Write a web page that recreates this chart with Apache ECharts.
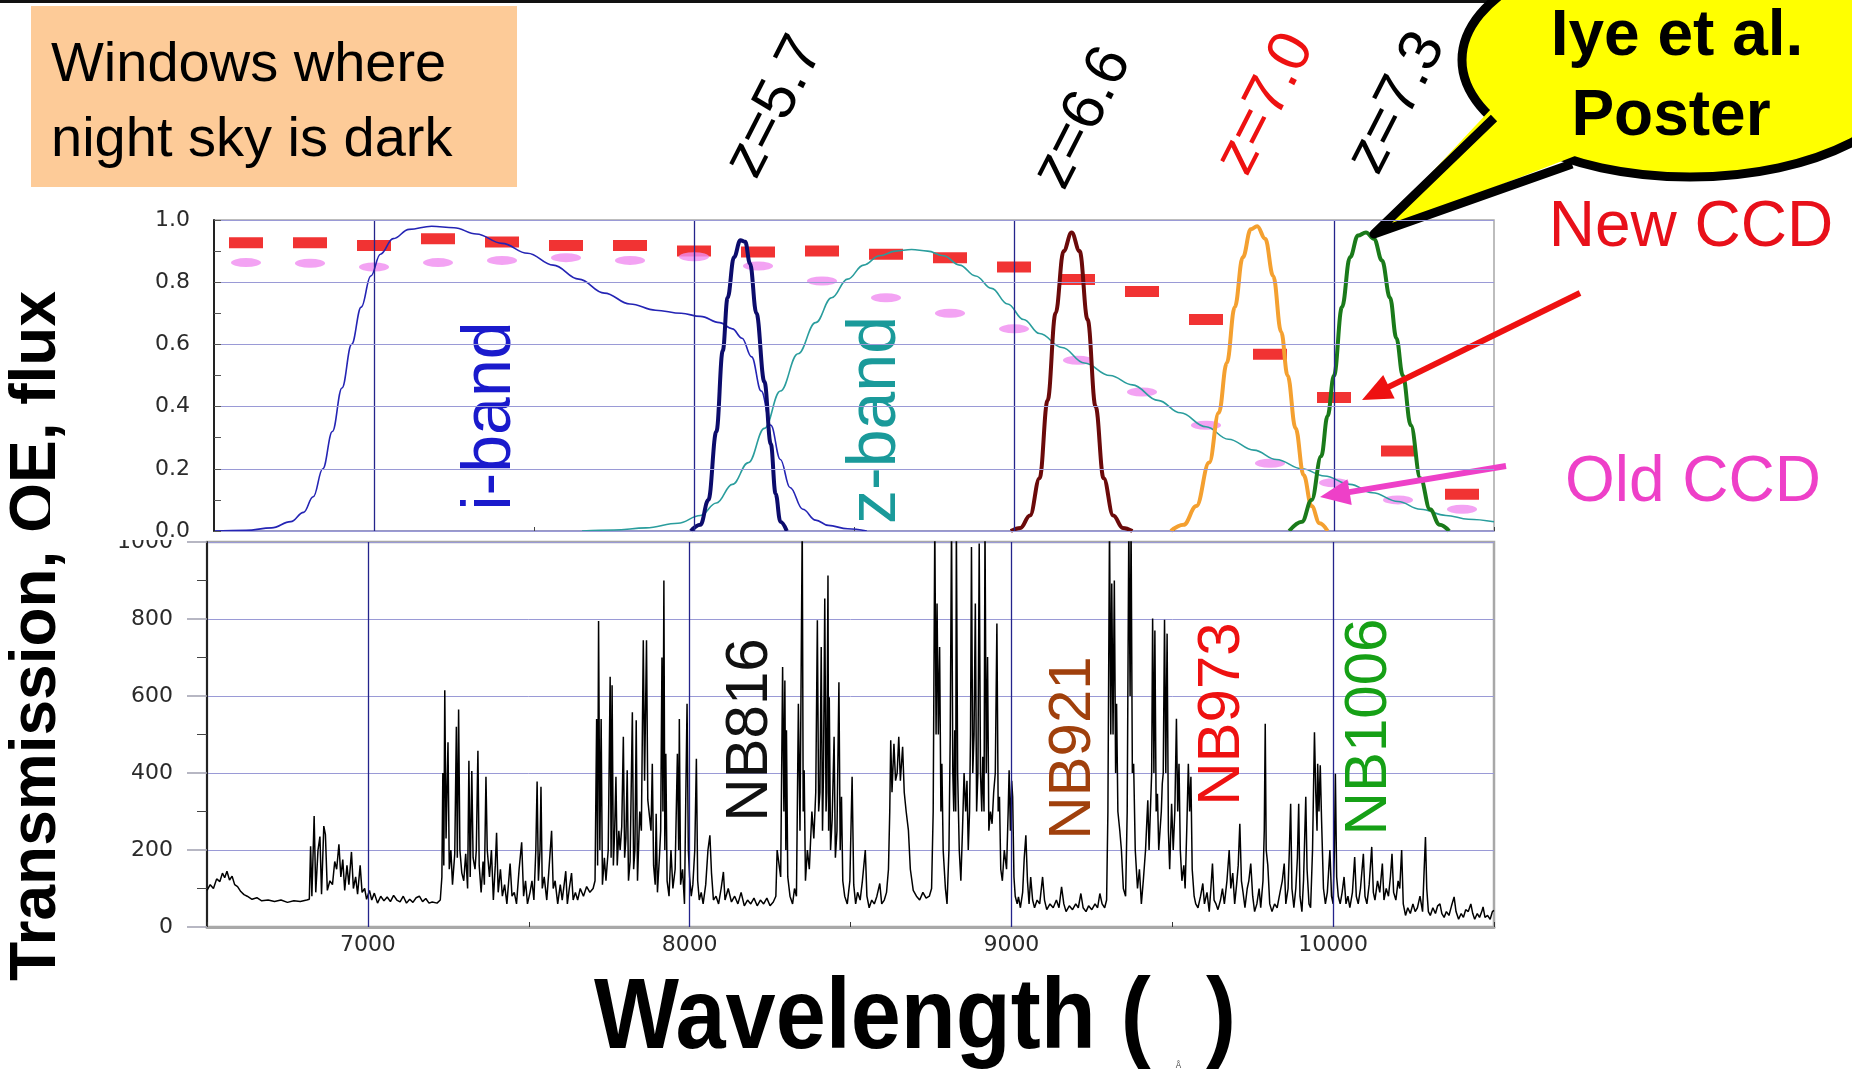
<!DOCTYPE html>
<html>
<head>
<meta charset="utf-8">
<script src="https://cdn.jsdelivr.net/npm/echarts@6.0.0/dist/echarts.min.js"></script>
<style>html,body{margin:0;padding:0;background:#fff;}#c{width:1852px;height:1069px;}</style>
</head>
<body>
<div id="c"></div>
<script>
// ---------------- DATA ----------------
const xTicks = [7000, 8000, 9000, 10000];
const topYTicks = [0, 0.2, 0.4, 0.6, 0.8, 1.0];
const botYTicks = [0, 200, 400, 600, 800, 1000];

const iBand = [[6500,0],[6600,0.002],[6680,0.01],[6740,0.03],[6780,0.06],[6810,0.11],[6840,0.2],[6870,0.32],[6900,0.46],[6930,0.6],[6960,0.72],[6990,0.82],[7020,0.89],[7060,0.94],[7110,0.97],[7180,0.98],[7250,0.975],[7320,0.955],[7400,0.925],[7480,0.893],[7560,0.855],[7640,0.81],[7720,0.765],[7800,0.73],[7880,0.71],[7960,0.70],[8020,0.69],[8080,0.67],[8120,0.65],[8150,0.62],[8180,0.56],[8210,0.45],[8240,0.34],[8270,0.23],[8300,0.14],[8340,0.07],[8380,0.035],[8420,0.018],[8480,0.007],[8540,0]];
const zBand = [[7650,0],[7750,0.003],[7850,0.01],[7950,0.025],[8020,0.05],[8070,0.09],[8120,0.15],[8170,0.22],[8220,0.33],[8270,0.45],[8325,0.57],[8380,0.67],[8430,0.75],[8480,0.81],[8530,0.855],[8580,0.885],[8630,0.9],[8680,0.905],[8730,0.9],[8780,0.885],[8830,0.855],[8880,0.82],[8930,0.78],[8980,0.73],[9030,0.68],[9080,0.635],[9150,0.59],[9220,0.54],[9300,0.5],[9370,0.47],[9450,0.42],[9520,0.38],[9600,0.335],[9670,0.295],[9750,0.26],[9820,0.23],[9900,0.2],[9970,0.177],[10050,0.15],[10120,0.123],[10200,0.095],[10270,0.07],[10350,0.05],[10420,0.038],[10500,0.03]];
const nb816 = [[7990,0],[8020,0.02],[8045,0.1],[8070,0.32],[8090,0.58],[8105,0.75],[8125,0.88],[8145,0.935],[8160,0.93],[8175,0.86],[8195,0.7],[8220,0.48],[8240,0.28],[8255,0.12],[8270,0.03],[8290,0]];
const nb921 = [[8990,0],[9020,0.01],[9050,0.05],[9080,0.17],[9105,0.42],[9130,0.7],[9155,0.9],[9180,0.96],[9205,0.9],[9230,0.68],[9255,0.4],[9280,0.17],[9310,0.05],[9340,0.01],[9370,0]];
const nb973 = [[9490,0],[9530,0.02],[9570,0.08],[9610,0.22],[9640,0.38],[9665,0.54],[9690,0.72],[9715,0.88],[9740,0.97],[9760,0.98],[9785,0.94],[9810,0.82],[9835,0.64],[9855,0.5],[9880,0.33],[9905,0.18],[9930,0.08],[9955,0.025],[9980,0]];
const nb1006 = [[9860,0],[9900,0.03],[9930,0.1],[9960,0.24],[9980,0.37],[10000,0.5],[10025,0.72],[10050,0.88],[10075,0.95],[10100,0.96],[10125,0.94],[10150,0.87],[10175,0.75],[10195,0.62],[10215,0.5],[10240,0.34],[10270,0.17],[10300,0.07],[10330,0.02],[10360,0]];

const ccdWave = [6600,6800,7000,7200,7400,7600,7800,8000,8200,8400,8600,8800,9000,9200,9400,9600,9800,10000,10200,10400];
const newCcdQE = [0.927,0.927,0.918,0.94,0.929,0.918,0.918,0.90,0.897,0.90,0.89,0.879,0.849,0.809,0.77,0.68,0.568,0.429,0.257,0.118];
const oldCcdQE = [0.863,0.861,0.849,0.863,0.87,0.879,0.87,0.882,0.852,0.804,0.75,0.70,0.65,0.549,0.447,0.34,0.218,0.155,0.10,0.07];

const skyFlux = [
[6500,95],[6510,110],[6520,100],[6530,125],[6540,118],[6548,140],[6555,128],[6562,145],[6570,122],[6578,132],[6586,110],[6595,105],[6605,92],[6615,84],[6625,80],[6640,72],[6655,76],[6670,68],[6690,70],[6710,66],[6730,70],[6750,64],[6770,68],[6790,66],[6810,70],[6818,72],
[6822,210],[6826,80],[6833,288],[6838,90],[6845,200],[6851,235],[6856,85],[6863,262],[6868,240],[6874,95],[6882,120],[6890,110],[6897,170],[6903,150],[6910,215],[6916,130],[6922,175],[6928,95],[6935,160],[6941,110],[6949,195],[6955,100],[6962,130],[6968,85],[6976,160],[6982,90],[6990,100],[6996,72],
[7005,95],[7012,70],[7020,88],[7030,62],[7040,80],[7050,68],[7060,78],[7070,66],[7080,82],[7090,70],[7100,65],[7110,80],[7120,62],[7130,72],[7140,64],[7150,76],[7160,80],[7170,66],[7180,74],[7190,62],[7200,65],[7215,62],[7225,70],
[7230,130],[7233,400],[7236,160],[7239,615],[7243,230],[7249,480],[7253,150],[7258,200],[7263,110],[7270,190],[7275,520],[7278,180],[7282,565],[7286,200],[7292,140],[7298,120],[7304,190],[7310,100],[7314,432],[7318,130],[7323,405],[7327,180],[7333,150],[7337,200],[7342,458],[7346,160],[7352,90],[7358,170],[7362,110],[7367,390],[7371,200],[7378,130],[7384,200],[7390,70],[7396,160],[7400,245],[7405,90],[7412,150],[7418,80],[7425,110],[7432,60],[7442,165],[7448,80],[7455,90],[7462,60],[7470,150],[7478,220],[7484,80],[7490,120],[7496,60],[7504,90],[7510,120],[7516,70],[7522,200],[7526,378],[7530,120],[7535,200],[7538,364],[7542,100],[7548,130],[7556,70],[7562,140],[7571,250],[7576,100],[7582,120],[7590,60],[7598,110],[7604,70],[7610,110],[7615,145],[7620,60],[7626,100],[7633,140],[7638,70],[7645,90],[7652,70],[7660,100],
[7670,80],[7680,105],[7690,90],[7700,100],[7706,120],[7711,540],[7714,160],[7717,795],[7721,200],[7725,540],[7729,110],[7735,180],[7740,120],[7747,200],[7753,650],[7756,180],[7759,628],[7763,160],[7767,250],[7771,390],[7775,160],[7780,250],[7784,200],[7789,260],[7794,494],[7798,180],[7802,230],[7806,407],[7810,120],[7815,170],[7822,558],[7826,150],[7830,200],[7834,537],[7838,120],[7845,300],[7850,250],[7856,745],[7860,380],[7866,745],[7870,330],[7875,290],[7880,250],[7884,424],[7888,160],[7893,110],[7896,294],[7900,90],[7906,180],[7910,250],[7914,700],[7917,300],[7920,900],[7923,200],[7926,450],[7930,120],[7936,80],[7942,200],[7948,100],[7955,150],[7962,450],[7966,200],[7968,540],[7972,110],[7978,150],[7984,60],[7988,330],[7992,580],[7996,200],[8000,130],[8005,80],[8010,110],[8016,200],[8021,437],[8025,120],[8030,70],[8036,90],[8042,60],[8050,110],[8057,200],[8063,238],[8068,140],[8074,70],[8082,80],[8090,60],[8098,100],[8105,143],[8110,70],
[8120,100],[8130,65],[8140,80],[8150,60],[8160,90],[8170,55],[8180,70],[8190,60],[8200,75],[8210,55],[8220,70],[8230,60],[8240,75],[8250,55],[8260,65],[8268,80],
[8272,200],[8278,200],[8283,130],[8289,675],[8293,300],[8296,640],[8299,200],[8301,511],[8305,130],[8312,80],[8320,60],[8326,100],[8332,80],[8338,580],[8343,250],[8350,1050],[8353,300],[8356,407],[8360,120],[8366,200],[8372,150],[8380,300],[8386,230],[8392,350],[8397,797],[8401,300],[8405,350],[8409,727],[8413,250],[8416,400],[8420,853],[8424,300],[8426,350],[8430,913],[8432,250],[8434,597],[8438,200],[8443,280],[8449,494],[8453,180],[8458,250],[8464,636],[8468,200],[8472,338],[8476,120],[8482,80],[8490,60],[8498,120],[8505,390],[8510,110],[8516,60],[8522,90],[8530,70],[8537,120],[8546,200],[8551,80],[8558,50],[8566,70],[8574,60],[8582,80],[8591,113],[8597,60],[8605,70],[8612,90],[8618,150],
[8622,300],[8625,485],[8629,350],[8635,476],[8640,380],[8645,400],[8650,494],[8655,380],[8662,468],[8667,350],[8673,300],[8680,251],[8686,150],[8695,95],[8705,80],[8715,70],[8725,90],[8735,75],[8745,80],[8752,100],
[8757,300],[8762,1050],[8766,500],[8769,840],[8773,500],[8777,727],[8781,300],[8784,424],[8788,200],[8795,100],[8800,60],[8806,200],[8810,500],[8814,1050],[8818,400],[8821,300],[8824,511],[8827,300],[8829,1050],[8833,400],[8838,200],[8843,120],[8848,250],[8853,400],[8858,300],[8862,380],[8866,200],[8870,300],[8873,500],[8876,987],[8880,400],[8884,500],[8888,840],[8892,300],[8896,400],[8900,996],[8904,400],[8908,300],[8911,442],[8915,300],[8918,1050],[8922,400],[8926,701],[8930,250],[8935,300],[8940,268],[8945,350],[8950,400],[8955,788],[8959,300],[8963,338],[8967,150],[8972,120],[8978,200],[8985,150],[8990,300],[8993,407],[8997,250],[9001,380],[9004,338],[9008,130],[9012,80],
[9018,60],[9022,78],[9028,50],[9035,90],[9040,180],[9045,238],[9050,120],[9055,60],[9060,130],[9066,70],[9072,50],[9080,70],[9088,60],[9097,130],[9103,70],[9110,45],[9120,60],[9130,50],[9140,70],[9148,50],[9156,104],[9163,60],[9170,40],[9180,55],[9190,45],[9200,60],[9208,50],[9216,87],[9223,50],[9232,40],[9240,55],[9250,45],[9260,60],[9268,50],[9275,87],[9282,60],[9290,50],[9296,70],
[9300,300],[9305,1050],[9309,500],[9312,892],[9316,500],[9320,900],[9324,400],[9327,580],[9331,300],[9337,250],[9342,200],[9348,100],[9355,80],[9360,300],[9365,1050],[9369,600],[9372,1050],[9376,400],[9380,424],[9385,200],[9392,100],[9398,150],[9404,60],[9410,120],[9417,200],[9424,329],[9428,200],[9432,300],[9436,400],[9439,801],[9443,400],[9446,770],[9450,300],[9454,346],[9458,200],[9462,250],[9466,300],[9469,372],[9472,400],[9476,798],[9480,400],[9484,762],[9488,250],[9492,150],[9498,320],[9503,200],[9508,300],[9513,541],[9517,300],[9521,424],[9525,200],[9530,120],[9536,160],[9540,100],[9545,250],[9550,424],[9554,300],[9558,390],[9562,150],[9568,80],[9573,60],
[9580,50],[9588,80],[9595,113],[9600,60],[9608,90],[9615,40],[9620,100],[9625,165],[9630,70],[9636,60],[9642,45],[9650,70],[9656,100],[9662,60],[9670,120],[9677,200],[9682,100],[9688,140],[9694,60],[9700,110],[9705,160],[9710,268],[9715,120],[9720,90],[9726,50],[9733,100],[9738,120],[9744,165],[9750,80],[9756,40],[9763,60],[9770,100],[9775,50],[9782,120],[9786,250],[9789,528],[9792,200],[9797,160],[9803,60],[9810,40],[9818,60],[9826,50],[9835,90],[9842,120],[9848,165],[9853,60],[9860,100],[9864,200],[9868,320],[9872,100],[9878,50],[9884,100],[9889,180],[9893,320],[9897,80],[9903,40],[9908,120],[9915,338],[9919,150],[9925,60],[9930,50],[9936,200],[9942,506],[9946,350],[9950,250],[9952,424],[9956,300],[9960,420],[9964,280],[9970,100],[9976,60],[9982,90],[9990,200],[9995,80],[10000,60],[10004,200],[10007,398],[10011,130],[10016,80],
[10022,60],[10028,90],[10034,130],[10040,60],[10046,80],[10052,50],[10060,90],[10067,182],[10072,80],[10078,60],[10085,100],[10090,150],[10094,190],[10099,80],[10105,60],[10112,110],[10120,208],[10125,90],[10130,70],[10138,120],[10145,90],[10153,165],[10158,70],[10165,100],[10172,80],[10178,130],[10183,190],[10188,90],[10195,70],[10202,120],[10207,100],[10213,200],[10218,60],[10225,30],[10232,50],[10240,35],[10248,60],[10255,40],[10262,50],[10270,80],[10278,40],[10283,150],[10287,234],[10291,100],[10296,40],[10302,30],[10310,50],[10318,35],[10325,55],[10332,60],[10338,35],[10345,25],[10352,40],[10360,30],[10368,55],[10376,78],[10382,40],[10390,20],[10398,35],[10405,25],[10412,45],[10420,40],[10428,60],[10434,35],[10440,20],[10448,35],[10455,25],[10462,40],[10466,52],[10472,25],[10480,30],[10488,20],[10495,40],[10500,43]
];

// ---------------- CHART ----------------
const chart = echarts.init(document.getElementById('c'), null, {renderer: 'canvas'});

const tickFont = {fontFamily: 'DejaVu Sans', fontSize: 22, color: '#2a2a2a'};
const navy = '#24248c';
const gridLav = '#9a9ad6';

function arrow(x1, y1, x2, y2, color, w, hl, hw) {
  const dx = x2 - x1, dy = y2 - y1, L = Math.hypot(dx, dy), ux = dx / L, uy = dy / L;
  const bx = x2 - ux * hl, by = y2 - uy * hl, nx = -uy, ny = ux;
  return [
    {type: 'line', z: 100, shape: {x1: x1, y1: y1, x2: bx + ux * 2, y2: by + uy * 2}, style: {stroke: color, lineWidth: w}},
    {type: 'polygon', z: 100, shape: {points: [[x2, y2], [bx + nx * hw, by + ny * hw], [bx - nx * hw, by - ny * hw]]}, style: {fill: color}}
  ];
}
function label(text, x, y, size, color, rot, extra) {
  return Object.assign({
    type: 'text', x: x, y: y, z: 100, rotation: rot || 0,
    style: {text: text, fill: color, fontSize: size, fontFamily: 'Liberation Sans, Arial, sans-serif',
            align: 'center', verticalAlign: 'middle'}
  }, extra || {});
}
const deg = Math.PI / 180;

const graphics = [
  {type: 'rect', z: 90, shape: {x: 0, y: 0, width: 1852, height: 3}, style: {fill: '#111'}},
  {type: 'rect', z: 90, shape: {x: 31, y: 6, width: 486, height: 181}, style: {fill: '#fdcb98'}},
  {type: 'text', x: 51, y: 66, z: 100, style: {text: 'Windows where', fill: '#000', fontSize: 56, fontFamily: 'Liberation Sans, Arial', align: 'left', verticalAlign: 'middle'}},
  {type: 'text', x: 51, y: 141, z: 100, style: {text: 'night sky is dark', fill: '#000', fontSize: 56, fontFamily: 'Liberation Sans, Arial', align: 'left', verticalAlign: 'middle'}},
  label('z=5.7', 775, 107, 60, '#000', 63 * deg),
  label('z=6.6', 1083, 118, 60, '#000', 63 * deg),
  label('z=7.0', 1266, 104, 60, '#ee1111', 63 * deg),
  label('z=7.3', 1397, 103, 60, '#000', 63 * deg),
  // speech bubble
  {type: 'ellipse', z: 100, shape: {cx: 1690, cy: 60, rx: 228, ry: 117}, style: {fill: '#ffff00', stroke: '#000', lineWidth: 9}},
  {type: 'polygon', z: 101, shape: {points: [[1492, 108], [1374, 234], [1575, 156], [1560, 110]]}, style: {fill: '#ffff00'}},
  {type: 'polyline', z: 102, shape: {points: [[1494, 118], [1374, 234], [1572, 164]]}, style: {stroke: '#000', lineWidth: 9, lineJoin: 'round', fill: null}},
  {type: 'text', x: 1677, y: 37, z: 103, style: {text: 'Iye et al.', fill: '#000', fontSize: 64, fontWeight: 'bold', fontFamily: 'Liberation Sans, Arial', align: 'center', verticalAlign: 'middle'}},
  {type: 'text', x: 1671, y: 117, z: 103, style: {text: 'Poster', fill: '#000', fontSize: 64, fontWeight: 'bold', fontFamily: 'Liberation Sans, Arial', align: 'center', verticalAlign: 'middle'}},
  label('New CCD', 1691, 228, 64, '#e8101a'),
  label('Old CCD', 1693, 483, 64, '#ee40c8'),
  ...arrow(1580, 293, 1362, 400, '#ee1111', 6, 30, 13),
  ...arrow(1506, 466, 1320, 497, '#ee40c8', 6, 30, 13),
  label('i-band', 491, 416, 68, '#1a1acc', 90 * deg),
  label('z-band', 876, 420, 68, '#1a9a9a', 90 * deg),
  label('NB816', 750, 730, 60, '#111', 90 * deg),
  label('NB921', 1073, 748, 60, '#a0400c', 90 * deg),
  label('NB973', 1222, 714, 60, '#ee1111', 90 * deg),
  label('NB1006', 1369, 727, 60, '#16a016', 90 * deg),
  {type: 'text', x: 37, y: 636, z: 100, rotation: 90 * deg,
   style: {text: 'Transmission, QE, flux', fill: '#000', fontSize: 64, fontWeight: 'bold', fontFamily: 'Liberation Sans, Arial', align: 'center', verticalAlign: 'middle'}},
  {type: 'text', x: 915, y: 1020, z: 100, scaleX: 0.9,
   style: {text: 'Wavelength ( {s|Å} )', fill: '#000', fontSize: 100, fontWeight: 'bold', fontFamily: 'Liberation Sans, Arial', align: 'center', verticalAlign: 'middle',
           rich: {s: {fontSize: 9, fontWeight: 'normal', fill: '#444', verticalAlign: 'bottom', padding: [40, 0, 0, 0]}}}},
  // mask upper part of the "1000" label (it sits under the upper panel)
  {type: 'rect', z: 120, shape: {x: 50, y: 480, width: 154, height: 60}, style: {fill: '#fff'}}
];

const option = {
  backgroundColor: '#fff',
  animation: false,
  grid: [
    {left: 214, top: 220, width: 1280, height: 311, show: true, borderColor: '#a8a8a8', borderWidth: 1.5, backgroundColor: 'transparent'},
    {left: 207, top: 542, width: 1287, height: 385, show: true, borderColor: '#a8a8a8', borderWidth: 2.5, backgroundColor: 'transparent'}
  ],
  xAxis: [
    {type: 'value', gridIndex: 0, min: 6500, max: 10500, interval: 500,
     axisLine: {show: true, onZero: false, lineStyle: {color: '#8c8cc8', width: 1.5}},
     axisTick: {show: true, inside: true, length: 4, lineStyle: {color: '#444'}},
     axisLabel: {show: false}, splitLine: {show: false}},
    {type: 'value', gridIndex: 1, min: 6500, max: 10500, interval: 500,
     axisLine: {show: true, onZero: false, lineStyle: {color: '#a8a8a8', width: 3}},
     axisTick: {show: true, inside: true, length: 5, lineStyle: {color: '#333'}},
     axisLabel: Object.assign({margin: 7, formatter: v => xTicks.includes(v) ? String(v) : ''}, tickFont),
     splitLine: {show: false}}
  ],
  yAxis: [
    {type: 'value', gridIndex: 0, min: 0, max: 1, interval: 0.2, z: 200,
     axisLine: {show: true, lineStyle: {color: '#222', width: 2}},
     axisTick: {show: true, inside: true, length: 7, lineStyle: {color: '#555'}},
     minorTick: {show: true, splitNumber: 2, length: 7, lineStyle: {color: '#555'}},
     axisLabel: Object.assign({margin: 24, formatter: v => topYTicks.some(t => Math.abs(t - v) < 1e-9) ? v.toFixed(1) : ''}, tickFont),
     splitLine: {show: true, lineStyle: {color: gridLav, width: 1}}},
    {type: 'value', gridIndex: 1, min: 0, max: 1000, interval: 200, z: 0,
     axisLine: {show: true, lineStyle: {color: '#222', width: 2}},
     axisTick: {show: true, length: 20, lineStyle: {color: '#a0a0b0', width: 1.5}},
     minorTick: {show: true, splitNumber: 2, length: 10, lineStyle: {color: '#444'}},
     axisLabel: Object.assign({margin: 34, formatter: v => botYTicks.includes(v) ? String(v) : ''}, tickFont),
     splitLine: {show: true, lineStyle: {color: gridLav, width: 1}}}
  ],
  series: [
    {type: 'line', xAxisIndex: 0, yAxisIndex: 0, data: [], z: 1, silent: true,
     markLine: {silent: true, symbol: ['none', 'none'], label: {show: false}, animation: false,
                lineStyle: {color: navy, width: 1.3, type: 'solid'}, data: xTicks.map(v => ({xAxis: v}))}},
    {type: 'line', xAxisIndex: 1, yAxisIndex: 1, data: [], z: 1, silent: true,
     markLine: {silent: true, symbol: ['none', 'none'], label: {show: false}, animation: false,
                lineStyle: {color: navy, width: 1.3, type: 'solid'}, data: xTicks.map(v => ({xAxis: v}))}},
    {name: 'New CCD', type: 'scatter', xAxisIndex: 0, yAxisIndex: 0, z: 2, symbol: 'rect', symbolSize: [34, 11],
     itemStyle: {color: '#ee0000'}, data: ccdWave.map((w, i) => [w, newCcdQE[i]])},
    {name: 'Old CCD', type: 'scatter', xAxisIndex: 0, yAxisIndex: 0, z: 2, symbol: 'circle', symbolSize: [30, 9],
     itemStyle: {color: '#f08cf0'}, data: ccdWave.map((w, i) => [w, oldCcdQE[i]])},
    {name: 'i-band', type: 'line', xAxisIndex: 0, yAxisIndex: 0, z: 3, showSymbol: false, smooth: 0.4, smoothMonotone: 'x',
     lineStyle: {color: '#2424b4', width: 1.6}, data: iBand},
    {name: 'z-band', type: 'line', xAxisIndex: 0, yAxisIndex: 0, z: 3, showSymbol: false, smooth: 0.4, smoothMonotone: 'x',
     lineStyle: {color: '#2a9d9d', width: 1.6}, data: zBand},
    {name: 'NB816', type: 'line', xAxisIndex: 0, yAxisIndex: 0, z: 4, showSymbol: false, smooth: 0.4, smoothMonotone: 'x',
     lineStyle: {color: '#0c0c6c', width: 4}, data: nb816},
    {name: 'NB921', type: 'line', xAxisIndex: 0, yAxisIndex: 0, z: 4, showSymbol: false, smooth: 0.4, smoothMonotone: 'x',
     lineStyle: {color: '#6b0a0a', width: 4}, data: nb921},
    {name: 'NB973', type: 'line', xAxisIndex: 0, yAxisIndex: 0, z: 4, showSymbol: false, smooth: 0.4, smoothMonotone: 'x',
     lineStyle: {color: '#f4a030', width: 4}, data: nb973},
    {name: 'NB1006', type: 'line', xAxisIndex: 0, yAxisIndex: 0, z: 4, showSymbol: false, smooth: 0.4, smoothMonotone: 'x',
     lineStyle: {color: '#1a7a1a', width: 4}, data: nb1006},
    {name: 'Sky', type: 'line', xAxisIndex: 1, yAxisIndex: 1, z: 3, showSymbol: false, sampling: null,
     lineStyle: {color: '#000', width: 1.5}, data: skyFlux}
  ],
  graphic: graphics
};
chart.setOption(option);
</script>
</body>
</html>
